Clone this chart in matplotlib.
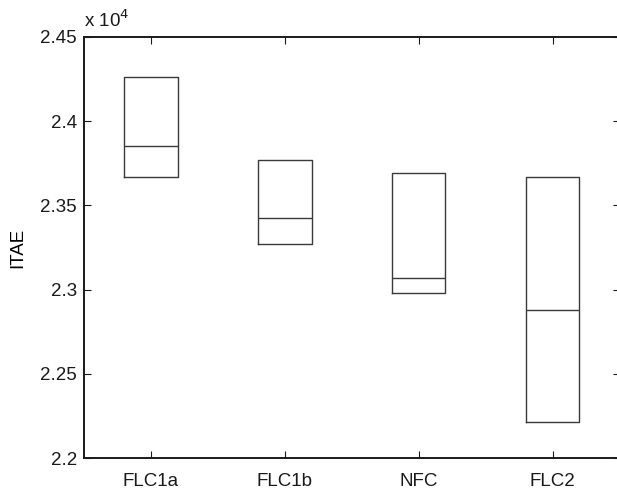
import matplotlib
matplotlib.use("Agg")
import matplotlib.pyplot as plt

plt.rcParams['font.family'] = ['Liberation Sans', 'DejaVu Sans']

controllers = ["FLC1a", "FLC1b", "NFC", "FLC2"]
# ITAE quartiles (units of 1e4)
q1 = [2.3670, 2.3273, 2.2978, 2.2216]
median = [2.3855, 2.3423, 2.3071, 2.2879]
q3 = [2.4264, 2.3770, 2.3690, 2.3670]
yticks = [2.2, 2.25, 2.3, 2.35, 2.4, 2.45]
ytick_labels = ["2.2", "2.25", "2.3", "2.35", "2.4", "2.45"]

fs = 13.5

fig = plt.figure(figsize=(6.17, 4.98), dpi=100)
ax = fig.add_axes([84 / 617, 1 - 458 / 498, (619.5 - 84) / 617, (458 - 37) / 498])

stats = []
for name, a, m, b in zip(controllers, q1, median, q3):
    stats.append(dict(label=name, q1=a, med=m, q3=b, whislo=a, whishi=b, fliers=[]))

line_kw = dict(color="#3a3a3a", linewidth=1.0)
ax.bxp(stats, positions=range(1, len(stats) + 1), widths=0.4,
       showcaps=False, showfliers=False,
       boxprops=line_kw, medianprops=line_kw, whiskerprops=line_kw)

ax.set_xlim(0.5, 4.5)
ax.set_ylim(2.2, 2.45)
ax.set_yticks(yticks)
ax.set_yticklabels(ytick_labels)
ax.set_xticks(range(1, len(controllers) + 1))
ax.set_xticklabels(controllers)
ax.set_ylabel("ITAE", fontsize=fs, labelpad=10)

ax.tick_params(direction="in", length=5, width=0.8, colors="#1a1a1a",
               labelsize=fs, top=True, right=True, pad=5)
ax.tick_params(axis="x", pad=10.5)
for s in ax.spines.values():
    s.set_linewidth(1.4)
    s.set_color("#1a1a1a")

ax.text(0.0, 1.015, r"x 10$^4$", transform=ax.transAxes, fontsize=fs,
        ha="left", va="bottom", color="#1a1a1a")

fig.savefig("out.png", dpi=100)
